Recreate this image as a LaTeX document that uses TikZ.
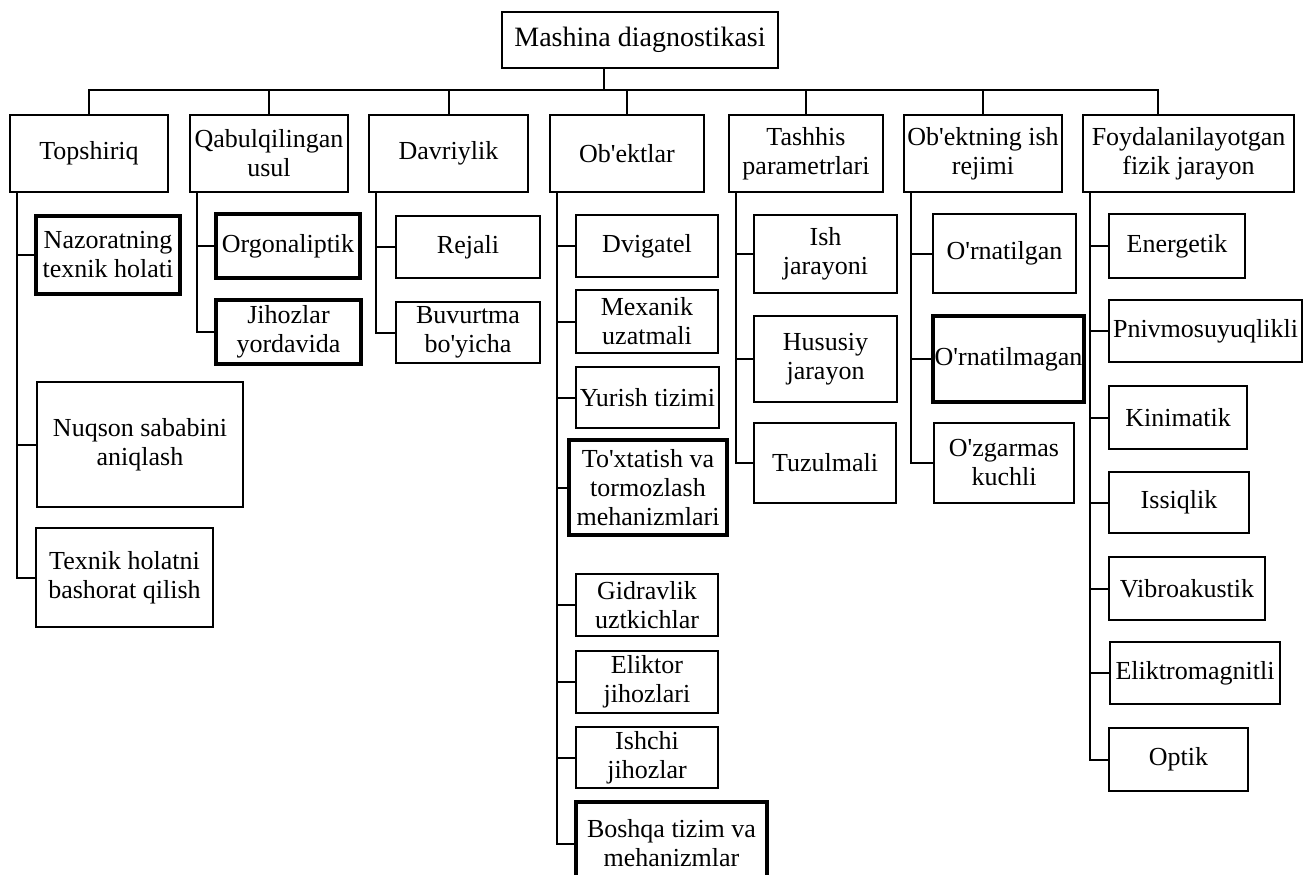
\documentclass[tikz,border=0pt]{standalone}
\usepackage{fontspec}
\setmainfont{Liberation Serif}
\newfontfamily\uzfont{Liberation Serif}

\begin{document}
\begin{tikzpicture}[x=1pt, y=-1pt,
    box/.style={draw, line width=2pt, align=center, inner sep=0pt,
        font=\uzfont\fontsize{26}{29}\selectfont},
    heavy/.style={box, line width=3.6pt},
    link/.style={line width=2pt}]

    \useasboundingbox (0,0) rectangle (1304,875);
    \fill[white] (0,0) rectangle (1304,875);
    \clip (0,0) rectangle (1304,875);

    % yuqori blok
    \node[box, line width=2.4pt, minimum width=276, minimum height=56,
        font=\uzfont\fontsize{28}{30}\selectfont] (top) at (640,40) {Mashina diagnostikasi};

    % birinchi daraja
    \node[box, minimum width=158, minimum height=77] (t1) at (89,153.5) {Topshiriq};
    \node[box, minimum width=158, minimum height=77] (t2) at (269,153.5) {Qabulqilingan\\usul};
    \node[box, minimum width=159, minimum height=77] (t3) at (448.5,153.5) {Davriylik};
    \node[box, minimum width=154, minimum height=77] (t4) at (627,153.5) {Ob'ektlar};
    \node[box, minimum width=154, minimum height=77] (t5) at (806,153.5) {Tashhis\\parametrlari};
    \node[box, minimum width=158, minimum height=77] (t6) at (983,153.5) {Ob'ektning ish\\rejimi};
    \node[box, minimum width=211, minimum height=77] (t7) at (1188.5,153.5) {Foydalanilayotgan\\fizik jarayon};

    % umumiy shina
    \coordinate (bus) at (604,90);
    \coordinate (d7) at (1158,90);
    \draw[link] (top.south -| bus) -- (bus);
    \draw[link] (t1.north) |- (d7) -- (d7 |- t7.north);
    \foreach \t in {t2,t3,t4,t5,t6}
        \draw[link] (\t.north) -- (\t.north |- bus);

    % Topshiriq
    \node[heavy, minimum width=144, minimum height=78] (c11) at (108,255) {Nazoratning\\texnik holati};
    \node[box, minimum width=206, minimum height=125] (c12) at (140,444.5) {Nuqson sababini\\aniqlash};
    \node[box, minimum width=177, minimum height=99] (c13) at (124.5,577.5) {Texnik holatni\\bashorat qilish};

    % Qabulqilingan usul
    \node[heavy, minimum width=144, minimum height=64] (c21) at (288,246) {Orgonaliptik};
    \node[heavy, minimum width=145, minimum height=64] (c22) at (288.5,332) {Jihozlar\\yordavida};

    % Davriylik
    \node[box, minimum width=144, minimum height=62] (c31) at (468,247) {Rejali};
    \node[box, minimum width=144, minimum height=61] (c32) at (468,332.5) {Buvurtma\\bo'yicha};

    % Ob'ektlar
    \node[box, minimum width=142, minimum height=62] (c41) at (647,246) {Dvigatel};
    \node[box, minimum width=142, minimum height=63] (c42) at (647,321.5) {Mexanik\\uzatmali};
    \node[box, minimum width=143, minimum height=61] (c43) at (647.5,397.5) {Yurish tizimi};
    \node[heavy, minimum width=158, minimum height=95] (c44) at (648,487.5) {To'xtatish va\\tormozlash\\mehanizmlari};
    \node[box, minimum width=142, minimum height=62] (c45) at (647,605) {Gidravlik\\uztkichlar};
    \node[box, minimum width=142, minimum height=62] (c46) at (647,682) {Eliktor\\jihozlari};
    \node[box, minimum width=142, minimum height=61] (c47) at (647,757.5) {Ishchi\\jihozlar};
    \node[heavy, minimum width=191, minimum height=83] (c48) at (671.5,843.5) {Boshqa tizim va\\mehanizmlar};

    % Tashhis parametrlari
    \node[box, minimum width=143, minimum height=78] (c51) at (825.5,254) {Ish\\jarayoni};
    \node[box, minimum width=143, minimum height=86] (c52) at (825.5,359) {Hususiy\\jarayon};
    \node[box, minimum width=142, minimum height=80] (c53) at (825,463) {Tuzulmali};

    % Ob'ektning ish rejimi
    \node[box, minimum width=143, minimum height=79] (c61) at (1004.5,253.5) {O'rnatilgan};
    \node[heavy, minimum width=151, minimum height=86] (c62) at (1008.5,359) {O'rnatilmagan};
    \node[box, minimum width=140, minimum height=80] (c63) at (1004,463) {O'zgarmas\\kuchli};

    % Foydalanilayotgan fizik jarayon
    \node[box, minimum width=136, minimum height=64] (c71) at (1177,246) {Energetik};
    \node[box, minimum width=193, minimum height=62] (c72) at (1205.5,331) {Pnivmosuyuqlikli};
    \node[box, minimum width=138, minimum height=63] (c73) at (1178,417.5) {Kinimatik};
    \node[box, minimum width=140, minimum height=61] (c74) at (1179,502.5) {Issiqlik};
    \node[box, minimum width=156, minimum height=63] (c75) at (1187,588.5) {Vibroakustik};
    \node[box, minimum width=170, minimum height=62] (c76) at (1195,673) {Eliktromagnitli};
    \node[box, minimum width=139, minimum height=63] (c77) at (1178.5,759.5) {Optik};

    % tarmoqlar
    \foreach \p/\c in {t1/c11,t1/c12,t1/c13, t2/c21,t2/c22, t3/c31,t3/c32,
        t4/c41,t4/c42,t4/c43,t4/c44,t4/c45,t4/c46,t4/c47,t4/c48,
        t5/c51,t5/c52,t5/c53, t6/c61,t6/c62,t6/c63,
        t7/c71,t7/c72,t7/c73,t7/c74,t7/c75,t7/c76,t7/c77}
        \draw[link] ([xshift=8pt]\p.south west) |- (\c.west);
\end{tikzpicture}
\end{document}
